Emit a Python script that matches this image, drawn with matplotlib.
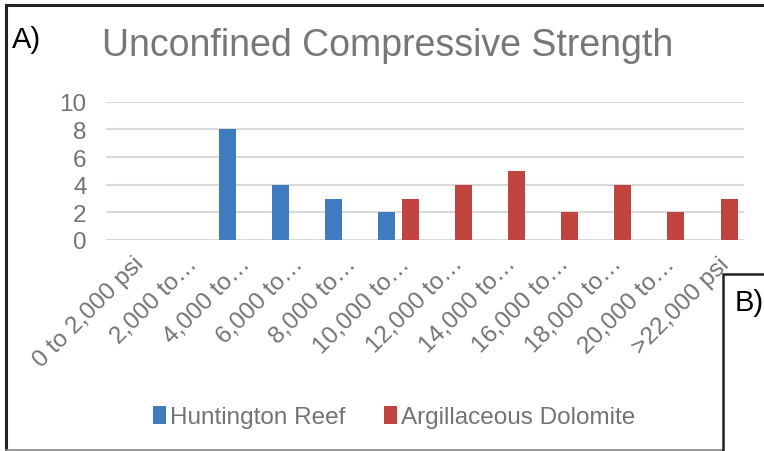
import matplotlib
matplotlib.use('Agg')
import matplotlib.pyplot as plt
from matplotlib.lines import Line2D
from matplotlib.patches import Rectangle
import numpy as np

plt.rcParams['font.family'] = ['Liberation Sans', 'DejaVu Sans']

# Data (count of samples per strength bin)
categories = ['0 to 2,000 psi', '2,000 to…', '4,000 to…', '6,000 to…', '8,000 to…',
              '10,000 to…', '12,000 to…', '14,000 to…', '16,000 to…', '18,000 to…',
              '20,000 to…', '>22,000 psi']
huntington = [0, 0, 8, 4, 3, 2, 0, 0, 0, 0, 0, 0]
argillaceous = [0, 0, 0, 0, 0, 3, 4, 5, 2, 4, 2, 3]

W, H = 764, 452
fig = plt.figure(figsize=(W / 100, H / 100), dpi=100)

# axes placed in pixel terms
left, right, top, bottom = 106, 744, 102.7, 241
ax = fig.add_axes([left / W, 1 - bottom / H, (right - left) / W, (bottom - top) / H])

blue = '#3F7CBF'
red = '#C1443F'
text_grey = '#737373'

x = np.arange(len(categories))
bw = 0.32
off = 0.22
ax.bar(x - off, huntington, bw, color=blue, label='Huntington Reef', zorder=3)
ax.bar(x + off, argillaceous, bw, color=red, label='Argillaceous Dolomite', zorder=3)

ax.set_xlim(-0.5, len(categories) - 0.5)
ax.set_ylim(0, 10)
ax.set_yticks(range(0, 11, 2))
ax.grid(axis='y', color='#D9D9D9', linewidth=1.5, zorder=0)
for s in ['top', 'right', 'left', 'bottom']:
    ax.spines[s].set_visible(False)
ax.tick_params(axis='both', length=0, labelsize=17.5, colors=text_grey)
ax.tick_params(axis='y', pad=14)
ax.set_xticks(x)
ax.set_xticklabels(categories, rotation=45, ha='right', rotation_mode='anchor')
ax.tick_params(axis='x', pad=9)

fig.text(388 / W, 1 - 46 / H, 'Unconfined Compressive Strength', ha='center', va='center',
         fontsize=27, color='#777777')
fig.text(12 / W, 1 - 40 / H, 'A)', ha='left', va='center', fontsize=21, color='black')

fig.legend(loc='center', bbox_to_anchor=(394 / W, 1 - 418 / H), ncol=2, frameon=False,
           fontsize=17.5, labelcolor=text_grey, handlelength=0.55, handleheight=0.75,
           handletextpad=0.15, columnspacing=1.6)

# frame of panel A
fig.add_artist(Line2D([5.5 / W, 5.5 / W], [1 - 5.5 / H, 1 - 450.5 / H], color='#222222', lw=2.2))
fig.add_artist(Line2D([5.5 / W, 1], [1 - 5.5 / H, 1 - 5.5 / H], color='#222222', lw=2.2))
fig.add_artist(Line2D([5.5 / W, 723 / W], [1 - 450.5 / H, 1 - 450.5 / H], color='#888888', lw=1.2))

# corner of panel B
fig.add_artist(Rectangle((723 / W, -0.1), 0.2, 1 - 275 / H + 0.1, transform=fig.transFigure,
                         facecolor='white', edgecolor='#222222', lw=1.8, zorder=10))
fig.text(735 / W, 1 - 303 / H, 'B)', ha='left', va='center', fontsize=21, color='black', zorder=11)

plt.savefig('out.png', dpi=100)
